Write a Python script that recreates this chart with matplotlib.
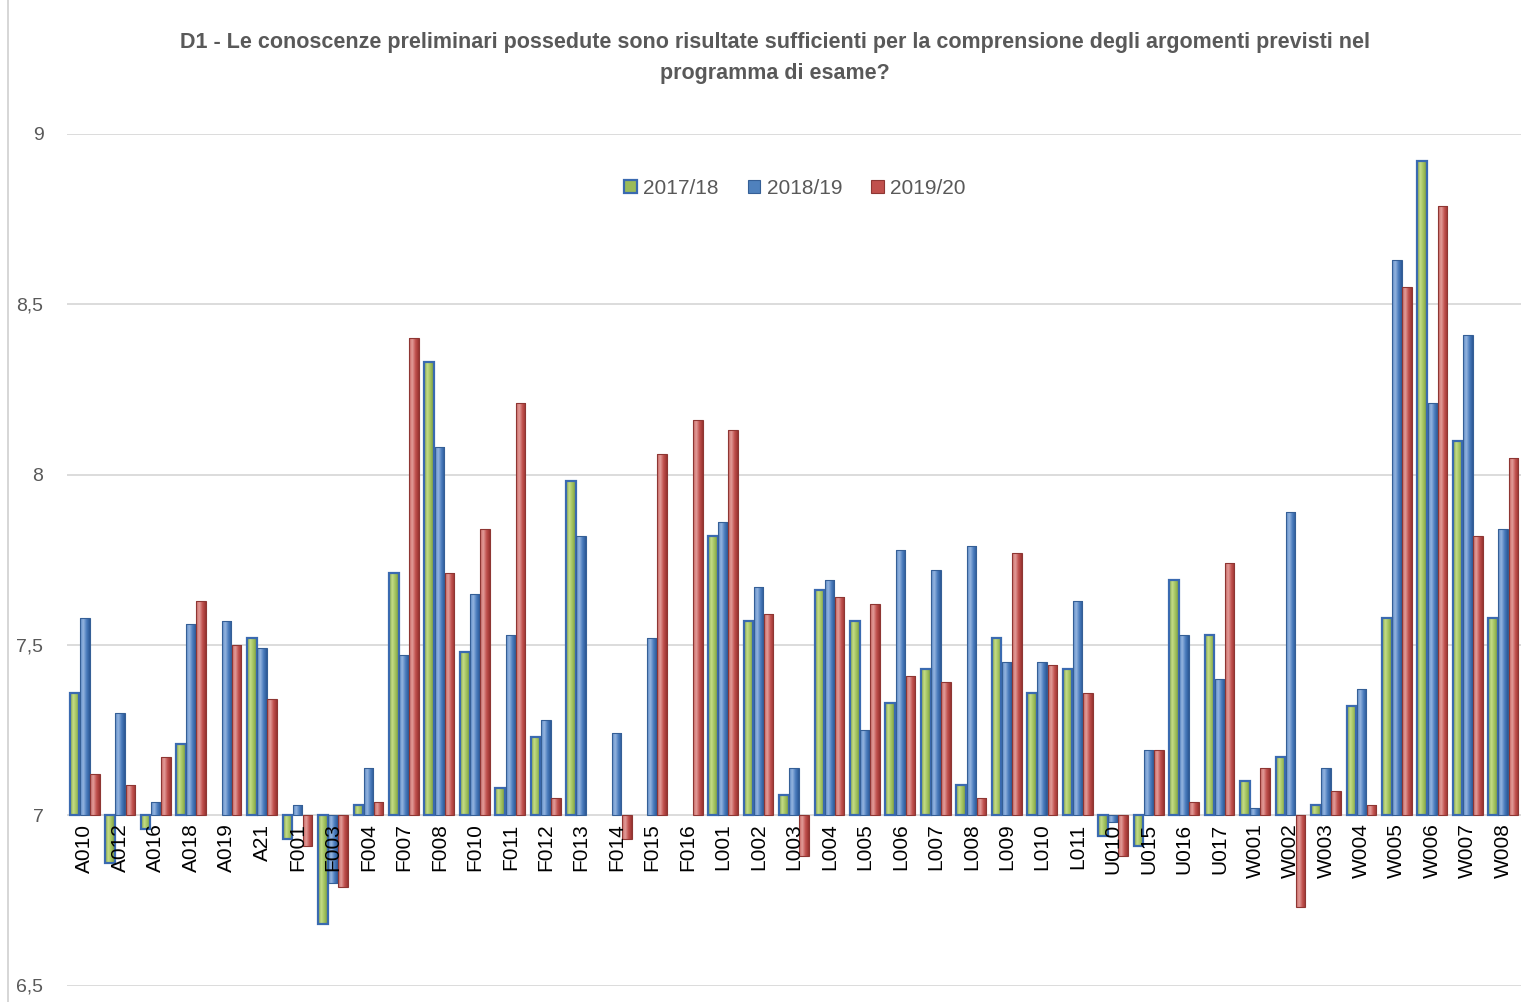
import numpy as np
import matplotlib
matplotlib.use("Agg")
import matplotlib.pyplot as plt
from matplotlib.colors import LinearSegmentedColormap
from matplotlib.patches import Patch
from matplotlib.lines import Line2D

nan = np.nan

categories = [
    "A010", "A012", "A016", "A018", "A019", "A21", "F001", "F003", "F004", "F007",
    "F008", "F010", "F011", "F012", "F013", "F014", "F015", "F016", "L001", "L002",
    "L003", "L004", "L005", "L006", "L007", "L008", "L009", "L010", "L011", "U010",
    "U015", "U016", "U017", "W001", "W002", "W003", "W004", "W005", "W006", "W007",
    "W008",
]

y2017 = [
    7.36, 6.86, 6.96, 7.21, nan, 7.52, 6.93, 6.68, 7.03, 7.71,
    8.33, 7.48, 7.08, 7.23, 7.98, nan, nan, nan, 7.82, 7.57,
    7.06, 7.66, 7.57, 7.33, 7.43, 7.09, 7.52, 7.36, 7.43, 6.94,
    6.91, 7.69, 7.53, 7.10, 7.17, 7.03, 7.32, 7.58, 8.92, 8.10,
    7.58,
]
y2018 = [
    7.58, 7.30, 7.04, 7.56, 7.57, 7.49, 7.03, 6.80, 7.14, 7.47,
    8.08, 7.65, 7.53, 7.28, 7.82, 7.24, 7.52, nan, 7.86, 7.67,
    7.14, 7.69, 7.25, 7.78, 7.72, 7.79, 7.45, 7.45, 7.63, 6.98,
    7.19, 7.53, 7.40, 7.02, 7.89, 7.14, 7.37, 8.63, 8.21, 8.41,
    7.84,
]
y2019 = [
    7.12, 7.09, 7.17, 7.63, 7.50, 7.34, 6.91, 6.79, 7.04, 8.40,
    7.71, 7.84, 8.21, 7.05, nan, 6.93, 8.06, 8.16, 8.13, 7.59,
    6.88, 7.64, 7.62, 7.41, 7.39, 7.05, 7.77, 7.44, 7.36, 6.88,
    7.19, 7.04, 7.74, 7.14, 6.73, 7.07, 7.03, 8.55, 8.79, 7.82,
    8.05,
]

series_labels = ["2017/18", "2018/19", "2019/20"]
BASE = 7.0
TITLE = ("D1 - Le conoscenze preliminari possedute sono risultate sufficienti per la "
         "comprensione degli argomenti previsti nel\nprogramma di esame?")

GREY = "#595959"
# (fill, edge, edge width, gradient stops) per series
styles = [
    ("#9BBB59", "#3A6AB0", 1.6, ["#86a54a", "#c4dc86", "#9fc05c", "#7a993d"]),
    ("#4F81BD", "#355f96", 0.8, ["#5d8bc8", "#94b4df", "#4a7cbd", "#2b5896"]),
    ("#C0504D", "#8e3633", 0.8, ["#c96763", "#e29c99", "#c0504d", "#983330"]),
]

fig = plt.figure(figsize=(15.21, 10.02), dpi=100)
ax = fig.add_axes([67 / 1521, 1 - 985.5 / 1002, 1 - 67 / 1521, (985.5 - 134) / 1002])
# category axis crosses at 7 (must be set before the tick labels)
ax.spines["bottom"].set_position(("data", BASE))

x = np.arange(len(categories))
width = 0.27
offsets = [-0.285, 0.0, 0.285]
grad = np.linspace(0, 1, 64).reshape(1, -1)

for vals, off, (fc, ec, lw, stops) in zip([y2017, y2018, y2019], offsets, styles):
    h = np.array(vals, dtype=float) - BASE
    bars = ax.bar(x + off, h, width, bottom=BASE, color=fc, linewidth=0, zorder=2)
    cmap = LinearSegmentedColormap.from_list("g", stops)
    for b, hv in zip(bars, h):
        if np.isnan(hv):
            continue
        x0, y0 = b.get_x(), b.get_y()
        im = ax.imshow(grad, extent=[x0, x0 + b.get_width(), y0, y0 + b.get_height()],
                       aspect="auto", cmap=cmap, interpolation="bilinear", zorder=2.1)
        im.set_clip_path(b)
    ax.bar(x + off, h, width, bottom=BASE, fill=False, edgecolor=ec, linewidth=lw, zorder=2.2)

# gridlines under the bars
for g in np.arange(6.5, 9.01, 0.5):
    ax.axhline(g, color="#D9D9D9", linewidth=1.3, zorder=0)
ax.grid(False)

ax.set_xlim(-0.5, len(categories) - 0.5)
ax.set_ylim(6.5, 9)
ax.set_yticks(np.arange(6.5, 9.01, 0.5))
ax.set_yticklabels(["6,5", "7", "7,5", "8", "8,5", "9"], color=GREY,
                   fontsize=14, family="Liberation Sans")
ax.set_xticks(x)
ax.set_xticklabels(categories, rotation=90, fontsize=15, family="Liberation Sans",
                   color="black", va="top", ha="center")
for s in ax.spines.values():
    s.set_visible(False)
ax.tick_params(axis="y", length=0, pad=17)
ax.tick_params(axis="x", length=0, pad=6)
ax.xaxis.set_zorder(5)

handles = [Patch(facecolor=s[0], edgecolor=s[1], linewidth=s[2] if i == 0 else 0.8)
           for i, s in enumerate(styles)]
fig.legend(handles, series_labels, loc="center", bbox_to_anchor=(795 / 1521, 1 - 188 / 1002),
           ncol=3, frameon=False, handlelength=0.6, handleheight=0.6,
           handletextpad=0.3, columnspacing=1.4, labelcolor=GREY,
           prop={"family": "Liberation Sans", "size": 15})

fig.text(775 / 1521, 1 - 58 / 1002, TITLE, ha="center", va="center", color=GREY,
         fontsize=15.5, fontweight="bold", linespacing=1.6,
         family=["Liberation Sans Narrow", "Liberation Sans", "DejaVu Sans"])

fig.add_artist(Line2D([8 / 1521, 8 / 1521], [0, 1], color="#D0D0D0", linewidth=1.2))

fig.savefig("out.png", dpi=100)
